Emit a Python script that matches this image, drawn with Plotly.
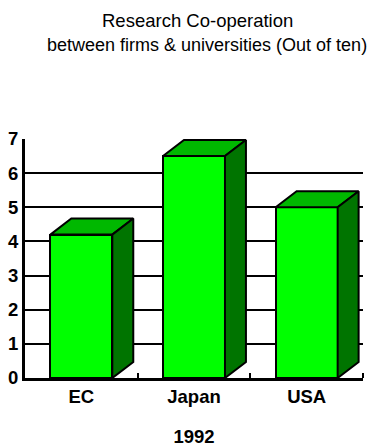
import plotly.graph_objects as go

# Research co-operation scores (out of ten), 1992
regions = ["EC", "Japan", "USA"]
scores = [4.2, 6.5, 5.0]
y_ticks = [0, 1, 2, 3, 4, 5, 6, 7]
year_label = "1992"
title_lines = ["Research Co-operation", "between firms & universities (Out of ten)"]

FRONT = "#00FF00"
TOP = "#00B800"
SIDE = "#007400"
BAR_W = 0.55
DEPTH_X = 0.186   # extrusion depth, x-axis units
DEPTH_Y = 0.47    # extrusion depth, y-axis units
FONT = "Arial, Liberation Sans, sans-serif"

xs = list(range(len(regions)))

fig = go.Figure()

# Front faces
fig.add_trace(go.Bar(
    x=xs, y=scores, width=BAR_W,
    marker=dict(color=FRONT, line=dict(color="black", width=2)),
    hoverinfo="skip", showlegend=False,
))

# Top and side faces give each bar its 3D look
for x, v in zip(xs, scores):
    x0, x1 = x - BAR_W / 2, x + BAR_W / 2
    fig.add_trace(go.Scatter(
        x=[x0, x0 + DEPTH_X, x1 + DEPTH_X, x1, x0],
        y=[v, v + DEPTH_Y, v + DEPTH_Y, v, v],
        mode="lines", fill="toself", fillcolor=TOP,
        line=dict(color="black", width=2),
        hoverinfo="skip", showlegend=False,
    ))
    fig.add_trace(go.Scatter(
        x=[x1, x1, x1 + DEPTH_X, x1 + DEPTH_X, x1],
        y=[0, v, v + DEPTH_Y, DEPTH_Y, 0],
        mode="lines", fill="toself", fillcolor=SIDE,
        line=dict(color="black", width=2),
        hoverinfo="skip", showlegend=False,
    ))

fig.update_layout(
    width=371, height=447,
    margin=dict(l=25, r=8, t=139, b=69),
    paper_bgcolor="white", plot_bgcolor="white",
    font=dict(family=FONT, color="black"),
    xaxis=dict(
        range=[-0.5, 2.5], tickvals=xs,
        ticktext=["<b>%s</b>" % r for r in regions],
        tickfont=dict(size=18.5, family=FONT),
        ticks="", showgrid=False, zeroline=False, automargin=False,
        showline=True, linecolor="black", linewidth=3,
        minor=dict(tickvals=[0.5, 1.5, 2.5], ticks="inside", ticklen=5,
                   tickwidth=2, tickcolor="black", showgrid=False),
        title=dict(text="<b>" + year_label + "</b>",
                   font=dict(size=18.5, family=FONT), standoff=25),
    ),
    yaxis=dict(
        range=[0, 7], tickvals=y_ticks,
        ticktext=["<b>%d</b>" % t for t in y_ticks],
        tickfont=dict(size=18.5, family=FONT), ticks="", automargin=False,
        showgrid=True, gridcolor="black", gridwidth=2,
        zeroline=False, showline=True, linecolor="black", linewidth=3,
    ),
    bargap=0,
    annotations=[
        dict(text=title_lines[0], xref="paper", yref="paper",
             x=(197.5 - 25) / 338, y=1 + (139 - 20) / 239,
             showarrow=False, xanchor="center", yanchor="middle",
             font=dict(size=18.5)),
        dict(text=title_lines[1], xref="paper", yref="paper",
             x=(207 - 25) / 338, y=1 + (139 - 45) / 239,
             showarrow=False, xanchor="center", yanchor="middle",
             font=dict(size=18)),
    ],
)

fig.write_html("out.html")
